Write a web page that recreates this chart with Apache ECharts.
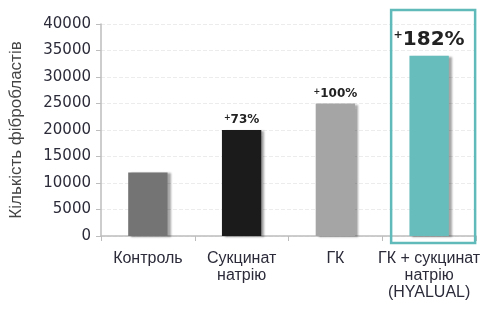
<!DOCTYPE html>
<html><head><meta charset="utf-8">
<script src="https://cdn.jsdelivr.net/npm/echarts@6/dist/echarts.min.js"></script>
<style>html,body{margin:0;padding:0;background:#fff}#c{width:497px;height:313px}</style>
</head><body><div id="c"></div>
<script>
const categories = ['Контроль', 'Сукцинат\nнатрію', 'ГК', 'ГК + сукцинат\nнатрію\n(HYALUAL)'];
const values = [12000, 20000, 25000, 34000];
const increases = ['', '73%', '100%', '182%'];
const colors = ['#747474', '#1b1b1b', '#a5a5a5', '#66bdbc'];
const yTicks = [0, 5000, 10000, 15000, 20000, 25000, 30000, 35000, 40000];
const axisName = 'Кількість фібробластів';

(function () {
const chart = echarts.init(document.getElementById('c'));
const data = values.map((v, i) => {
  const big = i === 3;
  return {
    value: v,
    itemStyle: { color: colors[i] },
    label: {
      show: increases[i] !== '',
      position: 'top',
      distance: big ? 6 : 4,
      formatter: increases[i] ? '{p|+}{v|' + increases[i] + '}' : '',
      rich: {
        p: { fontSize: big ? 11 : 8, fontWeight: 'bold', color: '#222', verticalAlign: 'top', padding: [0, 0, big ? 6 : 3, 0], fontFamily: 'DejaVu Sans' },
        v: { fontSize: big ? 20 : 12, fontWeight: 'bold', color: '#222', fontFamily: 'DejaVu Sans' }
      }
    }
  };
});
chart.setOption({
  animation: false,
  grid: { left: 100, right: 21, top: 24, bottom: 77, containLabel: false },
  xAxis: {
    type: 'category',
    data: categories,
    axisLine: { lineStyle: { color: '#bdbdbd', width: 1.5 } },
    axisTick: { show: true, length: 5, lineStyle: { color: '#bdbdbd' } },
    axisLabel: { color: '#2b2b3a', fontSize: 16, fontFamily: 'Liberation Sans', lineHeight: 17, margin: 14, interval: 0 }
  },
  yAxis: {
    type: 'value',
    min: yTicks[0], max: yTicks[yTicks.length - 1], interval: yTicks[1] - yTicks[0],
    name: axisName,
    nameLocation: 'middle',
    nameGap: 76,
    nameRotate: 90,
    nameTextStyle: { color: '#444', fontSize: 17, fontFamily: 'Liberation Sans' },
    axisLine: { show: true, lineStyle: { color: '#bdbdbd', width: 1.5 } },
    axisTick: { show: true, inside: false, length: 5, lineStyle: { color: '#bdbdbd' } },
    axisLabel: { color: '#2b2b3a', fontSize: 15, fontFamily: 'DejaVu Sans', margin: 10, formatter: v => String(v) },
    splitLine: { lineStyle: { color: '#ececec', type: 'dashed' } }
  },
  series: [{
    type: 'bar',
    data: data,
    barWidth: '42%',
    itemStyle: { shadowColor: 'rgba(0,0,0,0.35)', shadowBlur: 2, shadowOffsetX: 3, shadowOffsetY: 1 }
  }]
});
const cx = chart.convertToPixel({ xAxisIndex: 0 }, categories[3]);
const yTop = chart.convertToPixel({ yAxisIndex: 0 }, yTicks[yTicks.length - 1]);
const yBot = chart.convertToPixel({ yAxisIndex: 0 }, yTicks[0]);
chart.setOption({
  graphic: [{
    type: 'rect',
    shape: { x: cx - 38, y: yTop - 14, width: 84, height: yBot - yTop + 21 },
    style: { fill: 'none', stroke: '#5fbab9', lineWidth: 2.5 },
    z: 10
  }]
});
})();
</script></body></html>
